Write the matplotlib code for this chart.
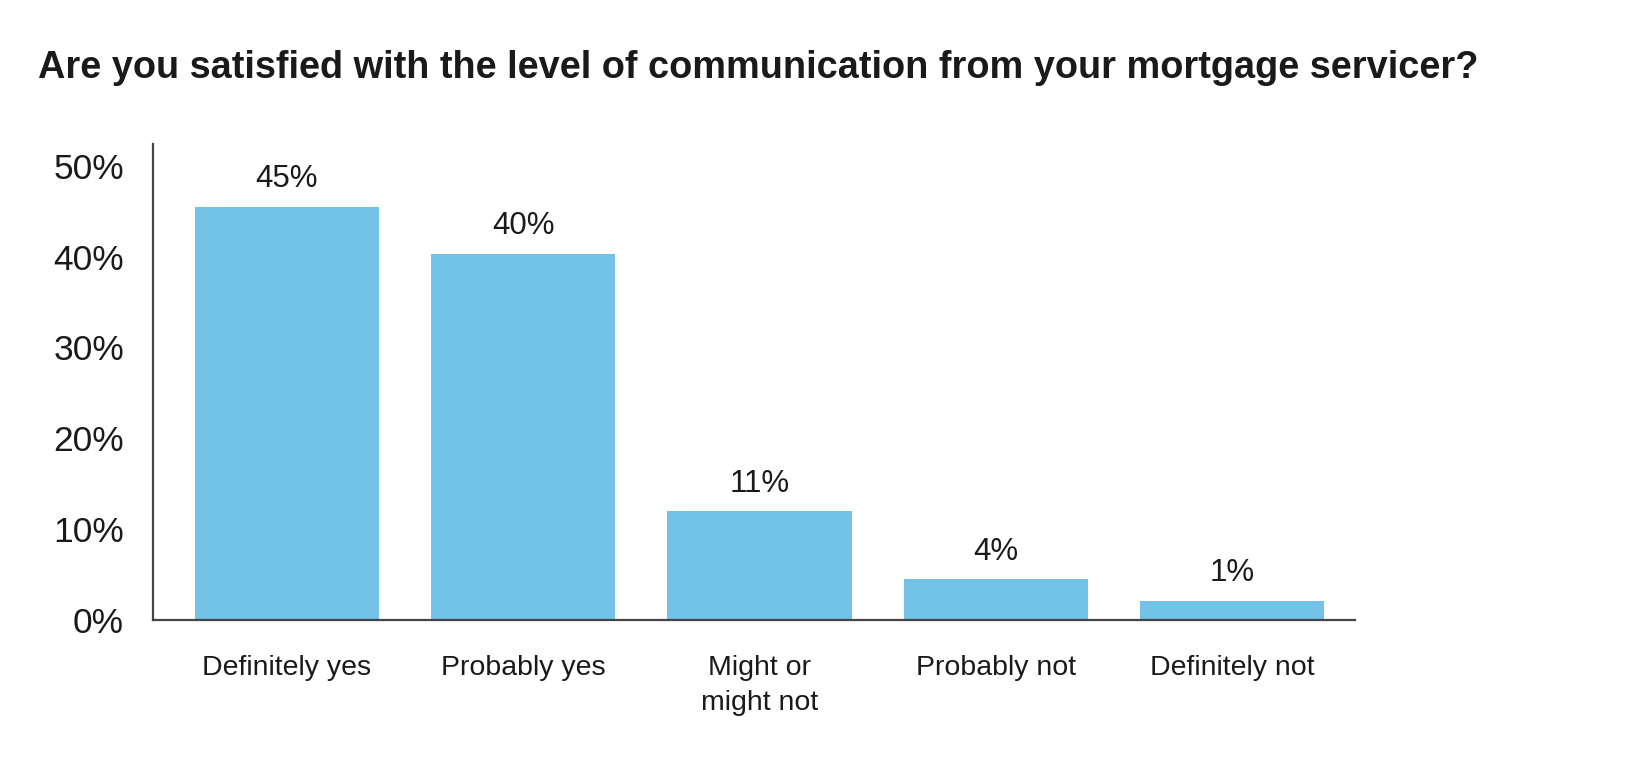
import matplotlib
matplotlib.use("Agg")
import matplotlib.pyplot as plt

categories = ["Definitely yes", "Probably yes", "Might or\nmight not",
              "Probably not", "Definitely not"]
bar_heights = [45.5, 40.3, 12.0, 4.5, 2.1]
bar_labels = ["45%", "40%", "11%", "4%", "1%"]
y_ticks = [0, 10, 20, 30, 40, 50]
y_tick_labels = ["0%", "10%", "20%", "30%", "40%", "50%"]

BAR_COLOR = "#72c3e7"
TEXT_COLOR = "#1a1a1a"
AXIS_COLOR = "#444444"


def main():
    plt.rcParams["font.family"] = ["Liberation Sans", "DejaVu Sans"]

    fig = plt.figure(figsize=(16.32, 7.59), dpi=100)
    ax = fig.add_axes([0.0938, 0.1831, 0.7365, 0.6272])

    x = list(range(len(categories)))
    bars = ax.bar(x, bar_heights, width=0.78, color=BAR_COLOR)

    # value labels above each bar
    for rect, lab in zip(bars, bar_labels):
        ax.annotate(lab, (rect.get_x() + rect.get_width() / 2, rect.get_height()),
                    xytext=(0, 9), textcoords="offset points",
                    ha="center", va="bottom", fontsize=22.5, color=TEXT_COLOR)

    ax.set_xlim(-0.566, 4.52)
    ax.set_ylim(0, 52.4)
    ax.set_xticks(x)
    ax.set_xticklabels(categories, fontsize=20.5, color=TEXT_COLOR, linespacing=1.45)
    ax.set_yticks(y_ticks)
    ax.set_yticklabels(y_tick_labels, fontsize=25.5, color=TEXT_COLOR)
    ax.tick_params(axis="x", length=0, pad=25)
    ax.tick_params(axis="y", length=0, pad=21)

    for side in ["top", "right"]:
        ax.spines[side].set_visible(False)
    for side in ["left", "bottom"]:
        ax.spines[side].set_color(AXIS_COLOR)
        ax.spines[side].set_linewidth(1.6)

    fig.text(0.0233, 0.91, "Are you satisfied with the level of communication from your mortgage servicer?",
             fontsize=27.3, fontweight="bold", color=TEXT_COLOR, ha="left", va="center")

    fig.savefig("out.png", dpi=100, facecolor="white")


if __name__ == "__main__":
    main()
